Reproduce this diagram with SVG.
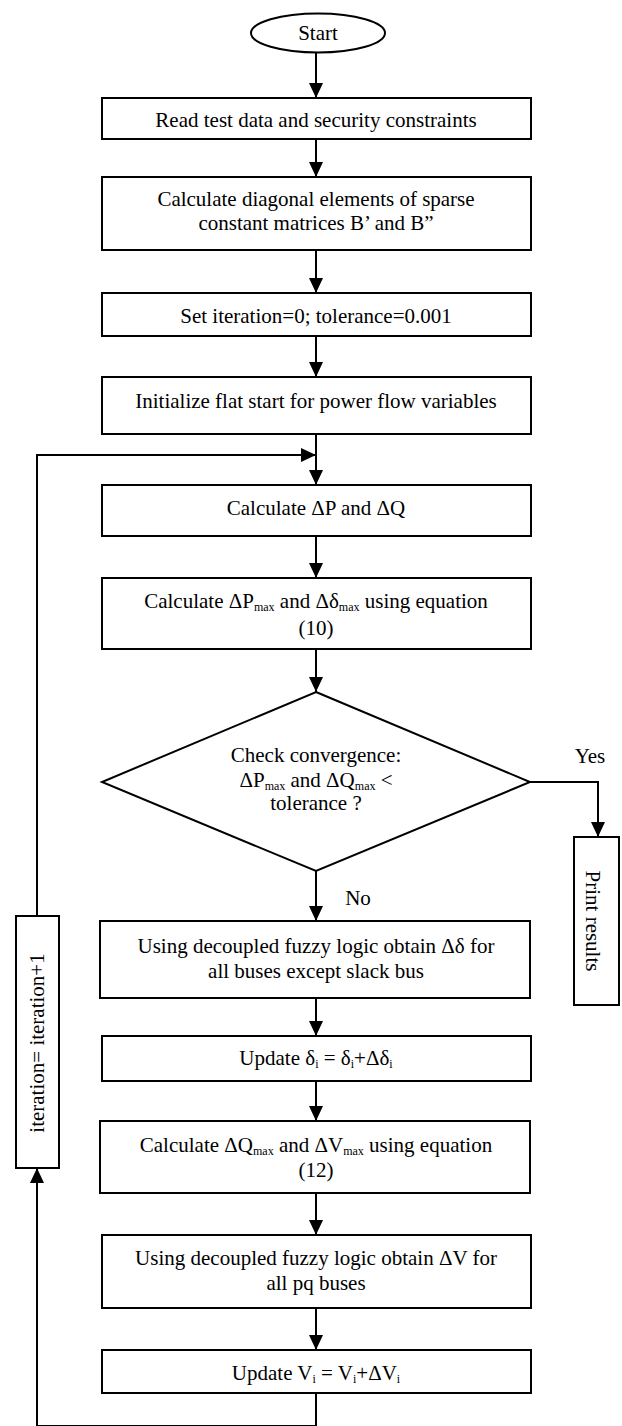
<svg xmlns="http://www.w3.org/2000/svg" width="622" height="1426" viewBox="0 0 622 1426">
<style>
text{font-family:"Liberation Serif","Times New Roman",serif;font-size:21px;fill:#000;text-anchor:middle}
.n{fill:#fff;stroke:#000;stroke-width:2}
.c{fill:none;stroke:#000;stroke-width:2}
.s{font-size:12px}
</style>
<defs>
<marker id="ah" markerUnits="userSpaceOnUse" markerWidth="15" markerHeight="14" refX="15" refY="7" orient="auto" viewBox="0 0 15 14">
<path d="M0,0 L15,7 L0,14 z" fill="#000"/>
</marker>
</defs>
<rect width="622" height="1426" fill="#fff"/>
<g id="connectors">
<path class="c" d="M316,52.5 V98" marker-end="url(#ah)"/>
<path class="c" d="M316,139 V177" marker-end="url(#ah)"/>
<path class="c" d="M316,250 V293" marker-end="url(#ah)"/>
<path class="c" d="M316,336 V377" marker-end="url(#ah)"/>
<path class="c" d="M316,434 V485" marker-end="url(#ah)"/>
<path class="c" d="M37,916 V455 H316" marker-end="url(#ah)"/>
<path class="c" d="M316,536 V578" marker-end="url(#ah)"/>
<path class="c" d="M316,649 V692" marker-end="url(#ah)"/>
<path class="c" d="M530,782 H598 V837" marker-end="url(#ah)"/>
<path class="c" d="M316,871 V921" marker-end="url(#ah)"/>
<path class="c" d="M316,998 V1036" marker-end="url(#ah)"/>
<path class="c" d="M316,1081 V1121" marker-end="url(#ah)"/>
<path class="c" d="M316,1193 V1235" marker-end="url(#ah)"/>
<path class="c" d="M316,1308 V1350" marker-end="url(#ah)"/>
<path class="c" d="M316,1393 V1426 H37 V1168" marker-end="url(#ah)"/>
<text x="590" y="763">Yes</text>
<text x="358" y="905">No</text>
</g>
<g id="start">
<ellipse class="n" cx="318" cy="33" rx="67" ry="19.5"/>
<text x="318" y="40">Start</text>
</g>
<g id="read">
<rect class="n" x="102" y="98" width="429" height="41"/>
<text x="316" y="127">Read test data and security constraints</text>
</g>
<g id="diag">
<rect class="n" x="102" y="177" width="429" height="73"/>
<text x="316" y="206">Calculate diagonal elements of sparse</text>
<text x="316" y="230">constant matrices B’ and B”</text>
</g>
<g id="setiter">
<rect class="n" x="102" y="293" width="429" height="43"/>
<text x="316" y="323">Set iteration=0; tolerance=0.001</text>
</g>
<g id="init">
<rect class="n" x="102" y="377" width="429" height="57"/>
<text x="316" y="408">Initialize flat start for power flow variables</text>
</g>
<g id="calcpq">
<rect class="n" x="102" y="485" width="429" height="51"/>
<text x="316" y="515">Calculate ΔP and ΔQ</text>
</g>
<g id="calcpmax">
<rect class="n" x="102" y="578" width="429" height="71"/>
<text x="316" y="608">Calculate ΔP<tspan class="s" dy="3">max</tspan><tspan dy="-3"> and Δδ</tspan><tspan class="s" dy="3">max</tspan><tspan dy="-3"> using equation</tspan></text>
<text x="316" y="635">(10)</text>
</g>
<g id="check">
<polygon class="n" points="316,692 530,782 316,871 102,782"/>
<text x="316" y="762">Check convergence:</text>
<text x="316" y="787">ΔP<tspan class="s" dy="3">max</tspan><tspan dy="-3"> and ΔQ</tspan><tspan class="s" dy="3">max</tspan><tspan dy="-3"> &lt;</tspan></text>
<text x="316" y="810">tolerance ?</text>
</g>
<g id="print">
<rect class="n" x="574" y="837" width="45" height="168"/>
<text transform="translate(586,921) rotate(90)" x="0" y="0">Print results</text>
</g>
<g id="fuzzyd">
<rect class="n" x="100" y="921" width="430" height="77"/>
<text x="316" y="953">Using decoupled fuzzy logic obtain Δδ for</text>
<text x="316" y="978">all buses except slack bus</text>
</g>
<g id="upd">
<rect class="n" x="102" y="1036" width="429" height="45"/>
<text x="316" y="1065">Update δ<tspan class="s" dy="3">i</tspan><tspan dy="-3"> = δ</tspan><tspan class="s" dy="3">i</tspan><tspan dy="-3">+Δδ</tspan><tspan class="s" dy="3">i</tspan></text>
</g>
<g id="calcqmax">
<rect class="n" x="100" y="1121" width="430" height="72"/>
<text x="316" y="1152">Calculate ΔQ<tspan class="s" dy="3">max</tspan><tspan dy="-3"> and ΔV</tspan><tspan class="s" dy="3">max</tspan><tspan dy="-3"> using equation</tspan></text>
<text x="316" y="1177">(12)</text>
</g>
<g id="fuzzyv">
<rect class="n" x="102" y="1235" width="429" height="73"/>
<text x="316" y="1265">Using decoupled fuzzy logic obtain ΔV for</text>
<text x="316" y="1290">all pq buses</text>
</g>
<g id="updv">
<rect class="n" x="102" y="1350" width="429" height="43"/>
<text x="316" y="1380">Update V<tspan class="s" dy="3">i</tspan><tspan dy="-3"> = V</tspan><tspan class="s" dy="3">i</tspan><tspan dy="-3">+ΔV</tspan><tspan class="s" dy="3">i</tspan></text>
</g>
<g id="iter">
<rect class="n" x="16" y="916" width="43" height="252"/>
<text transform="translate(44,1043) rotate(-90)" x="0" y="0">iteration= iteration+1</text>
</g>
</svg>
